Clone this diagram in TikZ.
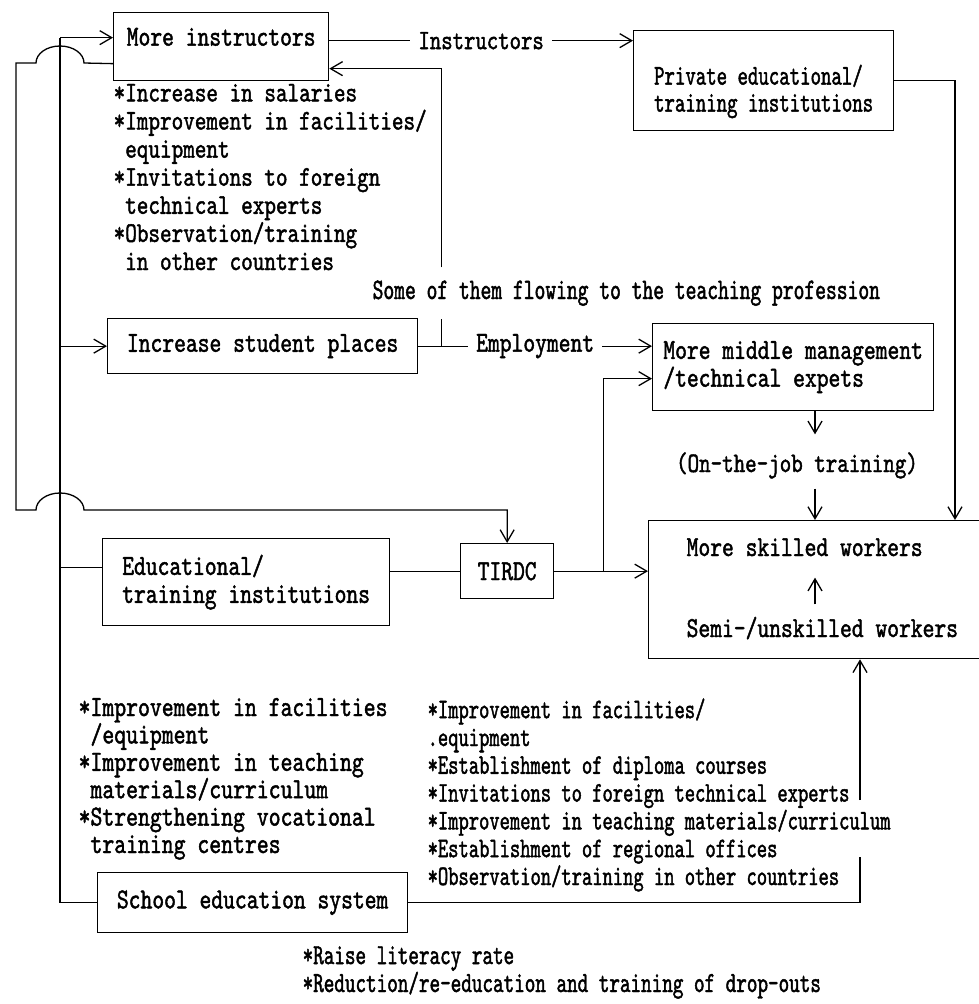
\documentclass[tikz,border=0pt]{standalone}
\usepackage{fontspec}
\setmainfont{lmmono10-regular.otf}[FakeStretch=0.775, FakeBold=1.5]
\newfontfamily\narrowfont{lmmono10-regular.otf}[FakeStretch=0.69, FakeBold=1.5]
\usetikzlibrary{arrows.meta,calc}
\tikzset{
	box/.style={draw, anchor=north west, inner sep=0pt, align=left},
	txt/.style={inner sep=0pt, anchor=base west, align=left},
	lbl/.style={fill=white, inner xsep=8pt, inner ysep=0pt}
}
\newcommand{\fsz}[2]{\fontsize{#1}{#2}\selectfont}

\begin{document}
\begin{tikzpicture}[x=1pt, y=-1pt, ->, >={Straight Barb[length=12pt,width=14pt]},
 line width=1.3pt]
\useasboundingbox (0,0) rectangle (978,1004);

% boxes
\node[box, minimum width=215pt, minimum height=68pt, text height=18pt, text depth=20pt, font=\fsz{29}{27.7}] (instr) at (113,12) {More instructors};
\node[box, minimum width=260pt, minimum height=100pt, text height=68pt, text depth=6pt, font=\narrowfont\fsz{28.8}{27}] (priv) at (633,30) {Private educational/\\training institutions};
\node[box, minimum width=310pt, minimum height=55pt, font=\fsz{29}{27.7}] (places) at (107,318) {Increase student places};
\node[box, minimum width=281pt, minimum height=87pt, font=\fsz{29}{26}] (middle) at (652,323) {More middle management\\/technical expets};
\node[box, minimum width=287pt, minimum height=87pt, font=\fsz{29}{28}] (edu) at (102,538) {Educational/\\training institutions};
\node[box, minimum width=93pt, minimum height=55pt, font=\fsz{29}{27.7}] (tirdc) at (460,543) {TIRDC};
\node[box, minimum width=342pt, minimum height=138pt] (skilled) at (648,520) {};
\node[box, minimum width=310pt, minimum height=60pt, font=\fsz{29}{27.7}] (school) at (97,872) {School education system};

% texts inside the workers box
\node[txt, font=\fsz{29}{27.7}, text depth=0pt, inner ysep=21pt] (mskill) at (686,556) {More skilled workers};
\node[txt, font=\fsz{29}{27.7}, text height=18pt, inner ysep=14pt] (semi) at (686,637) {Semi-/unskilled workers};
\node[txt, anchor=base, font=\fsz{28.3}{27.7}, text height=18pt, text depth=6pt, inner ysep=10pt] (ojt) at (797,472) {(On-the-job training)};

% lists (anchored at the baseline of their last line)
\node[txt, font=\fsz{28.5}{28.1}] (lst1) at (113,270) {*Increase in salaries\\*Improvement in facilities/\\\hphantom{*}equipment\\*Invitations to foreign\\\hphantom{*}technical experts\\*Observation/training\\\hphantom{*}in other countries};
\node[txt, font=\narrowfont\fsz{29.8}{27}, text height=18pt, text depth=6pt, inner ysep=13pt] (flow) at (372,299) {Some of them flowing to the teaching profession};
\node[txt, font=\fsz{29.2}{27.4}] (lst2) at (78,853) {*Improvement in facilities\\\hphantom{*}/equipment\\*Improvement in teaching\\\hphantom{*}materials/curriculum\\*Strengthening vocational\\\hphantom{*}training centres};
\node[txt, font=\narrowfont\fsz{28.4}{27.8}] (lst3) at (427,885) {*Improvement in facilities/\\.equipment\\*Establishment of diploma courses\\*Invitations to foreign technical experts\\*Improvement in teaching materials/curriculum\\*Establishment of regional offices\\*Observation/training in other countries};
\node[txt, font=\narrowfont\fsz{29.2}{26}] (lst4) at (302,992) {*Raise literacy rate\\*Reduction/re-education and training of drop-outs};

% helper coordinates
\coordinate (ix) at (60,0);
\coordinate (rx) at (955,0);
\coordinate (ax) at (815,0);
\coordinate (lowy) at (0,510);
\coordinate (itop) at ([yshift=9pt]instr.west);
\coordinate (iout) at ([yshift=-17pt]instr.west);
\coordinate (eIn) at ([yshift=14.5pt]edu.west);
\coordinate (br) at ([xshift=23pt]places.east);
\coordinate (jn) at ([xshift=49pt]tirdc.east);
\coordinate (gapb) at (860,857);
\coordinate (gapt) at (860,800);

% connectors
\draw ([yshift=6pt]instr.east) -- node[lbl, font=\fsz{28}{28}] (ilbl) {Instructors} ([yshift=6pt]instr.east -| priv.west);
\draw (places.east) -- node[lbl, font=\fsz{29}{28}] (elbl) {Employment} (places.east -| middle.west);
\draw[-] (br) -- (br |- flow.south);
\draw (br |- flow.north) |- ([yshift=-22pt]instr.east);
\draw (priv.east) -| (rx |- skilled.north);
\draw[shorten >=9pt] (middle.south -| ax) -- (ojt.north -| ax);
\draw (ojt.south -| ax) -- (skilled.north -| ax);
\draw (semi.north -| ax) -- (mskill.south -| ax);
\draw[-] (tirdc.west) -- (tirdc.west -| edu.east);
\draw (tirdc.east) -- (tirdc.east -| skilled.west);
\draw (jn) |- ([yshift=-11.5pt]middle.west);
\draw[-] (school.west) -| (itop -| ix);
\draw (itop -| ix) -- (itop);
\draw (ix |- places.west) -- (places.west);
\draw[-] (ix |- eIn) -- (eIn);
\draw (iout) -- (84,63) arc[start angle=0, end angle=180, x radius=24pt, y radius=17pt] -- (16,63) -- (16,510) -- (36,510) arc[start angle=180, end angle=0, x radius=24pt, y radius=17pt] -- (tirdc.north |- lowy) -- (tirdc.north);
\draw[-] (school.east) -| (gapb);
\draw (gapt) -- (gapt |- skilled.south);
\end{tikzpicture}
\end{document}
